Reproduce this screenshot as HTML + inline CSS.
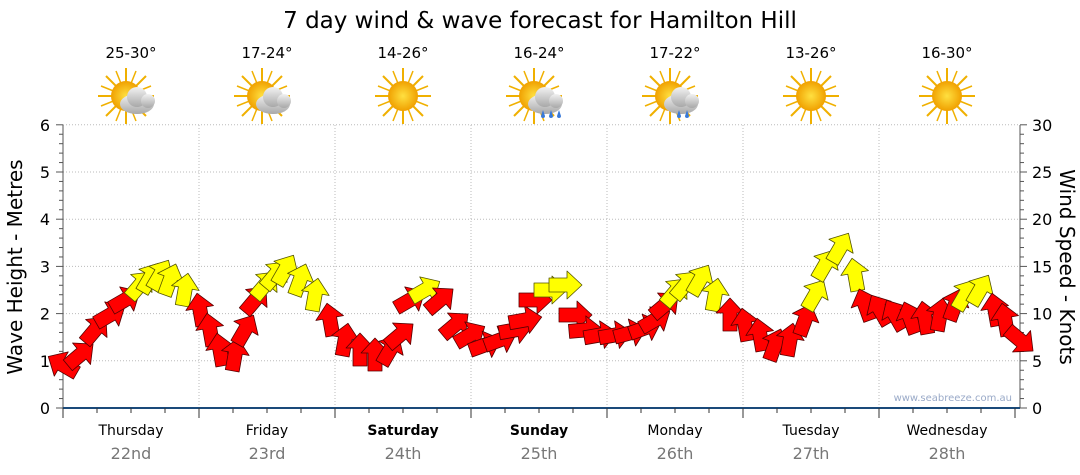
<!DOCTYPE html>
<html><head><meta charset="utf-8"><style>
body{margin:0;background:#fff;}
svg{display:block;font-family:"DejaVu Sans","Liberation Sans",sans-serif;}
</style></head><body>
<svg id="s" width="1080" height="475" viewBox="0 0 1080 475" xmlns="http://www.w3.org/2000/svg">
<defs>
<radialGradient id="sun" cx="50%" cy="50%" r="50%"><stop offset="0" stop-color="#ffe040"/><stop offset="1" stop-color="#f0a000"/></radialGradient>
<linearGradient id="cl" x1="0" y1="0" x2="0" y2="1"><stop offset="0" stop-color="#f2f2f2"/><stop offset="1" stop-color="#a8a8a8"/></linearGradient>
<g id="sunI"><g stroke="#f0b000" stroke-width="2">
<line x1="0" y1="-28" x2="0" y2="28"/><line x1="-28" y1="0" x2="28" y2="0"/><line x1="-20" y1="-20" x2="20" y2="20"/><line x1="-20" y1="20" x2="20" y2="-20"/>
<line x1="-10" y1="-25" x2="10" y2="25" stroke-width="1.5"/><line x1="10" y1="-25" x2="-10" y2="25" stroke-width="1.5"/><line x1="-25" y1="-10" x2="25" y2="10" stroke-width="1.5"/><line x1="-25" y1="10" x2="25" y2="-10" stroke-width="1.5"/></g>
<circle r="15" fill="url(#sun)"/></g>
<g id="cloud"><ellipse cx="8" cy="6" rx="17" ry="10" fill="url(#cl)"/><circle cx="8" cy="-1" r="10" fill="url(#cl)"/><circle cx="19" cy="3" r="7" fill="url(#cl)"/></g>
</defs>
<text x="540" y="28" font-size="23" text-anchor="middle" fill="#000">7 day wind &amp; wave forecast for Hamilton Hill</text>
<g id="grid"></g>
<g id="arrows" stroke-width="0.8" stroke-linejoin="round"></g>
<text x="1012" y="401" font-size="10" text-anchor="end" fill="#9aaac8">www.seabreeze.com.au</text>
<text transform="translate(22,267) rotate(-90)" font-size="20" text-anchor="middle">Wave Height - Metres</text>
<text transform="translate(1060,267) rotate(90)" font-size="20" text-anchor="middle">Wind Speed - Knots</text>
</svg>
<script>
const NS="http://www.w3.org/2000/svg",s=document.getElementById('s'),g=document.getElementById('grid');
function el(t,a,p){const e=document.createElementNS(NS,t);for(const k in a)e.setAttribute(k,a[k]);(p||g).appendChild(e);return e;}
const L=63,R=1020,Y0=408,M=47.2;
for(let i=1;i<=6;i++)el('line',{x1:L,x2:R,y1:Y0-i*M,y2:Y0-i*M,stroke:'#bbb','stroke-dasharray':'1,2','stroke-width':1});
for(let d=1;d<7;d++){const x=L+136*d;el('line',{x1:x,x2:x,y1:125,y2:Y0,stroke:'#bbb','stroke-dasharray':'1,2','stroke-width':1});}
el('line',{x1:L,x2:L,y1:125,y2:Y0,stroke:'#555'});el('line',{x1:R,x2:R,y1:125,y2:Y0,stroke:'#555'});
el('line',{x1:L,x2:R,y1:Y0,y2:Y0,stroke:'#1a4a7a','stroke-width':2});
for(let i=0;i<=6;i++){el('text',{x:L-13,y:Y0-i*M+6,'font-size':16,'text-anchor':'end'}).textContent=i;}
for(let i=0;i<=30;i+=5){el('text',{x:R+12,y:Y0-i/5*M+6,'font-size':16}).textContent=i;}
for(let i=0;i<=30;i++){const y=Y0-i*M/5,w=i%5?4:7;el('line',{x1:L-w,x2:L,y1:y,y2:y,stroke:'#555'});el('line',{x1:R,x2:R+w,y1:y,y2:y,stroke:'#555'});}
for(let k=0;k<=28;k++){const x=L+34*k;el('line',{x1:x,x2:x,y1:Y0,y2:Y0+(k%4?5:10),stroke:'#333'});}
const days=[['Thursday','22nd'],['Friday','23rd'],['Saturday','24th'],['Sunday','25th'],['Monday','26th'],['Tuesday','27th'],['Wednesday','28th']];
const temps=['25-30°','17-24°','14-26°','16-24°','17-22°','13-26°','16-30°'];
const icons=['pc','pc','s','r','pr','s','s'];
days.forEach((d,i)=>{const cx=L+68+136*i;
 const t=el('text',{x:cx,y:435,'font-size':14,'text-anchor':'middle'});t.textContent=d[0];if(i==2||i==3)t.setAttribute('font-weight','bold');
 el('text',{x:cx,y:459,'font-size':16,'text-anchor':'middle',fill:'#777'}).textContent=d[1];
 el('text',{x:cx,y:58,'font-size':15,'text-anchor':'middle'}).textContent=temps[i];
 const ic=icons[i];el('use',{href:'#sunI',transform:`translate(${cx-(ic=='s'?0:5)},96)`});
 if(ic!='s')el('use',{href:'#cloud',transform:`translate(${cx-2},98)`});
 if(ic=='r'||ic=='pr'){for(let j=0;j<(ic=='r'?3:2);j++)el('path',{d:`M${cx+4+j*8} 110 l-2 6 a2 2 0 0 0 4 0z`,fill:'#3a7ad8'});}
});
const pts=[[63,365,-150],[80,355,-40],[95,330,-50],[110,315,-30],[125,300,-30],[140,285,-50],[150,278,-60],[160,275,-60],[170,280,-70],[185,290,-80],[200,310,-100],[210,330,-100],[220,350,-100],[235,355,-80],[245,330,-60],[255,300,-50],[265,285,-50],[275,275,-50],[285,270,-60],[300,280,-70],[315,295,-80],[330,320,-100],[345,340,-80],[360,350,-90],[375,355,-90],[390,350,-60],[400,335,-40],[410,300,-30],[425,290,-30],[440,300,-40],[455,325,-40],[470,335,-30],[485,345,-20],[500,340,-20],[515,330,-10],[525,320,-10],[535,300,0],[550,290,0],[565,285,0],[575,315,0],[585,330,-5],[600,335,-10],[615,335,-10],[630,333,-15],[645,328,-20],[655,320,-30],[665,305,-40],[675,292,-50],[685,285,-50],[700,280,-60],[715,295,-80],[730,315,-90],[745,325,-100],[760,335,-100],[775,345,-70],[790,340,-80],[805,320,-70],[815,295,-60],[825,265,-60],[840,248,-60],[855,275,-100],[865,305,-110],[880,310,-120],[895,315,-120],[910,318,-110],[925,318,-100],[940,315,-80],[955,305,-70],[965,295,-60],[980,290,-60],[995,310,-100],[1005,320,-100],[1020,340,40]];
const A=document.getElementById('arrows');
pts.forEach(p=>{const yel=p[1]<297;
 el('path',{d:'M-16,-7 L2,-7 L2,-14 L17,0 L2,14 L2,7 L-16,7 Z',fill:yel?'#ffff00':'#ff0000',stroke:yel?'#555500':'#550000',transform:`translate(${p[0]},${p[1]}) rotate(${p[2]})`},A);});
</script>
</body></html>
